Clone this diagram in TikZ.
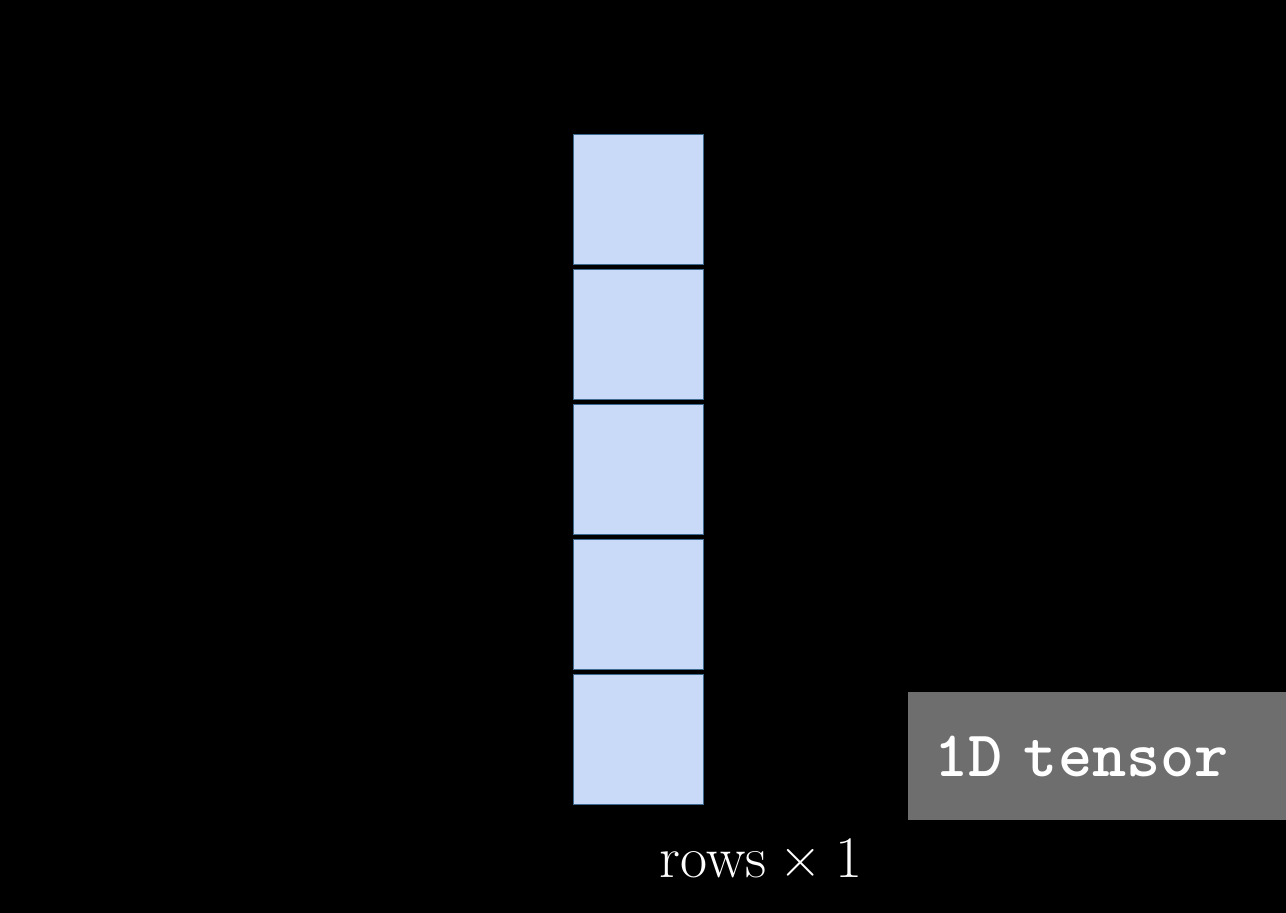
\documentclass[tikz,border=0pt]{standalone}
\usepackage{fontspec}
\usepackage{xcolor}
\usepackage{tikz}
\definecolor{cellblue}{HTML}{C9DAF8}
\definecolor{cellline}{HTML}{3D6A8E}
\definecolor{taggray}{HTML}{6E6E6E}

\begin{document}
\begin{tikzpicture}[x=0.02cm, y=-0.02cm,
  cell/.style={draw=cellline, fill=cellblue, line width=0.5pt, inner sep=0pt,
    minimum width=2.6cm, minimum height=2.6cm},
  tag/.style={fill=taggray, text=white, inner sep=0pt, inner xsep=0.52cm,
    text width=6.52cm, align=left, minimum height=2.56cm,
    font=\ttfamily\bfseries\fontsize{37}{40}\selectfont}]
%\draw[help lines] (0,0) grid (1286,913);
\fill[black] (0,0) rectangle (1286,913);
\useasboundingbox (0,0) rectangle (1286,913);
%==================== Cells ==================
\node[cell] (c1) at (638,199) {};
\node[cell] (c2) at (638,334) {};
\node[cell] (c3) at (638,469) {};
\node[cell] (c4) at (638,604) {};
\node[cell] (c5) at (638,739) {};
%==================== Labels ==================
\node[anchor=base, text=white, font=\fontsize{33.5}{40}\selectfont] (shape) at (761,877) {rows\hspace{0.22em}×\hspace{0.22em}1};
\node[tag] (tag) at (1097,756) {1D tensor};
\end{tikzpicture}
\end{document}
